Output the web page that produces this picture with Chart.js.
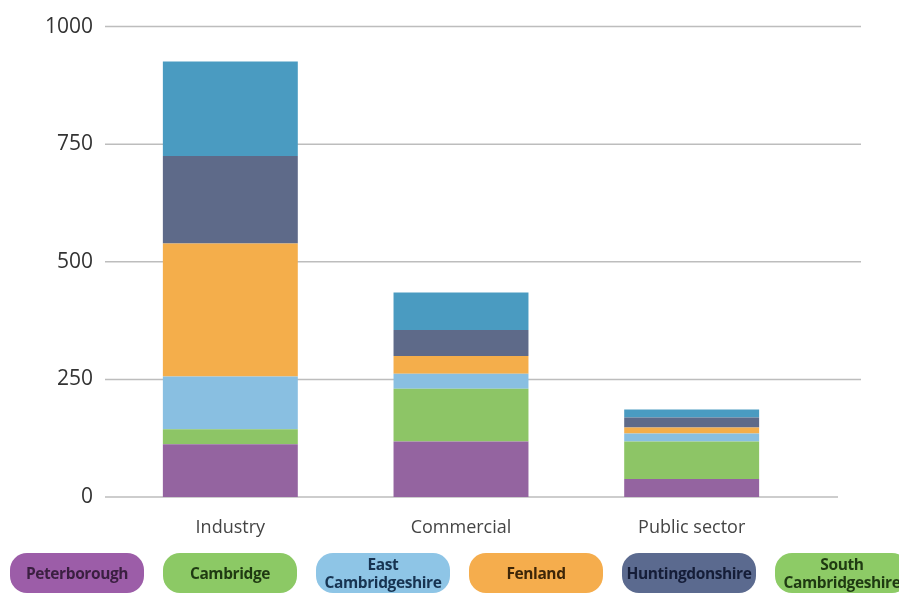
<!DOCTYPE html>
<html>
<head>
<meta charset="utf-8">
<script src="https://cdn.jsdelivr.net/npm/chart.js@4/dist/chart.umd.min.js"></script>
<style>
  body { margin: 0; background: #fff; }
  #wrap { position: relative; width: 899px; height: 594px; overflow: hidden; }
  #legend { position: absolute; left: 10px; top: 553px; display: flex; gap: 19px; }
  .pill {
    width: 134px; height: 40px; border-radius: 17px;
    display: flex; align-items: center; justify-content: center; text-align: center;
    font-family: "Open Sans", sans-serif; font-weight: 700; font-size: 15.5px; line-height: 18px;
    white-space: nowrap; letter-spacing: -0.4px;
  }
</style>
</head>
<body>
<div id="wrap">
  <canvas id="chart" width="899" height="594"></canvas>
  <div id="legend"></div>
</div>
<script>
// sectors along the x axis
var sectors = ['Industry', 'Commercial', 'Public sector'];

// one stack segment per district, bottom to top
var districts = ['Peterborough', 'Cambridge', 'East Cambridgeshire', 'Fenland', 'Huntingdonshire', 'South Cambridgeshire'];
var peterborough = [112, 118, 38];
var cambridge = [32, 112, 80];
var eastCambs = [112, 32, 17];
var fenland = [283, 38, 13];
var huntingdonshire = [186, 55, 21];
var southCambs = [201, 80, 17];

var yTicks = [0, 250, 500, 750, 1000];

var barColors = ['#9464a0', '#8dc566', '#89bfe1', '#f4ae4b', '#5e6a89', '#4a9bc1'];
var pillColors = ['#9c5da8', '#8cc965', '#8ec5e6', '#f5ad4d', '#5b6a8f', '#8dcb66'];
var pillText = ['#3a1f40', '#1f3a12', '#173452', '#3d2608', '#151d38', '#1f3a12'];

var series = [peterborough, cambridge, eastCambs, fenland, huntingdonshire, southCambs];

// horizontal rules run a bit past the plot on both sides
var gridLines = {
  id: 'gridLines',
  beforeDatasetsDraw: function (chart) {
    var ctx = chart.ctx;
    var y = chart.scales.y;
    var area = chart.chartArea;
    ctx.save();
    ctx.strokeStyle = '#bdbdbd';
    ctx.lineWidth = 1.5;
    y.ticks.forEach(function (t) {
      var py = y.getPixelForValue(t.value);
      ctx.beginPath();
      ctx.moveTo(area.left - 10, py);
      ctx.lineTo(t.value === 0 ? area.right + 31 : area.right + 54, py);
      ctx.stroke();
    });
    ctx.restore();
  }
};

new Chart(document.getElementById("chart"), {
  type: 'bar',
  data: {
    labels: sectors,
    datasets: districts.map(function (name, i) {
      return {
        label: name,
        data: series[i],
        backgroundColor: barColors[i],
        borderWidth: 0,
        barPercentage: 0.585,
        categoryPercentage: 1
      };
    })
  },
  options: {
    responsive: false,
    animation: false,
    layout: { padding: { top: -2, right: 92, bottom: 57, left: 0 } },
    plugins: {
      legend: { display: false },
      tooltip: { enabled: false }
    },
    scales: {
      x: {
        stacked: true,
        grid: { display: false },
        border: { display: false },
        ticks: { color: '#444', padding: 12, font: { family: 'Open Sans', size: 18 } },
        afterFit: function (scale) { scale.height = 40; }
      },
      y: {
        stacked: true,
        min: 0,
        max: 1000,
        afterBuildTicks: function (scale) {
          scale.ticks = yTicks.map(function (v) { return { value: v }; });
        },
        grid: { display: false },
        border: { display: false },
        ticks: {
          color: '#333',
          padding: 14,
          font: { family: 'Open Sans', size: 21 },
          callback: function (v) { return String(v); }
        },
        afterFit: function (scale) { scale.width = 115; }
      }
    }
  },
  plugins: [gridLines]
});

// pill legend under the chart
var legend = document.getElementById('legend');
districts.forEach(function (name, i) {
  var pill = document.createElement('div');
  pill.className = 'pill';
  pill.style.background = pillColors[i];
  pill.style.color = pillText[i];
  pill.innerHTML = name.replace(' ', '<br>');
  legend.appendChild(pill);
});
</script>
</body>
</html>
